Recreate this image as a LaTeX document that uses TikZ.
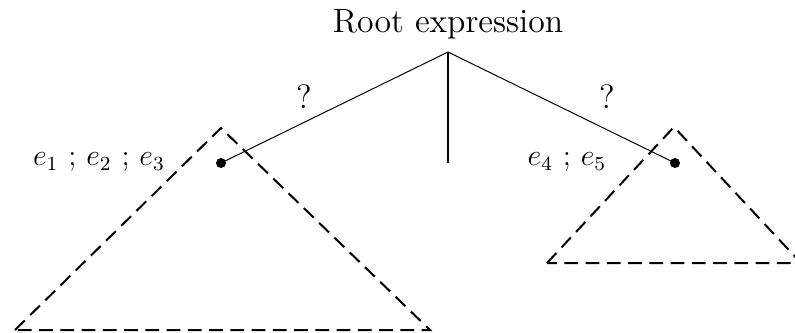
\documentclass[tikz,border=0pt]{standalone}
\usepackage{amsmath}
\usepackage{tikz}

\begin{document}
\begin{tikzpicture}[x=0.4pt, y=-0.4pt,
    label text/.style={font=\large, inner sep=0pt},
    big text/.style={font=\fontsize{13.5}{16}\selectfont, inner sep=0pt},
    subtree/.style={dash pattern=on 5.5pt off 3pt, line width=0.8pt},
    branch/.style={line width=0.4pt},
    hole/.style={circle, fill=black, inner sep=0pt, minimum size=4pt}]
\useasboundingbox (0,0) rectangle (795,333);

% root of the expression
\node[big text] (root) at (448,24) {Root expression};
\coordinate (top) at (448,52);
\coordinate (mid) at (448,163);

% the two holes
\node[hole] (lefthole) at (221,163) {};
\node[hole] (righthole) at (675,163) {};

% subtrees
\draw[subtree] (15,330) -- (221,128) -- (430,330) -- cycle;
\draw[subtree] (547,263) -- (674,127) -- (801,263) -- cycle;

% branches
\draw[line width=0.8pt] (top) -- (mid);
\draw[branch] (top) -- (lefthole.center);
\draw[branch] (top) -- (righthole.center);

% labels
\node[big text] (leftq) at (304,97) {?};
\node[big text] (rightq) at (607,97) {?};
\node[label text] (leftlabel) at (99,162) {$e_1$ ; $e_2$ ; $e_3$};
\node[label text] (rightlabel) at (567,162) {$e_4$ ; $e_5$};
\end{tikzpicture}
\end{document}
